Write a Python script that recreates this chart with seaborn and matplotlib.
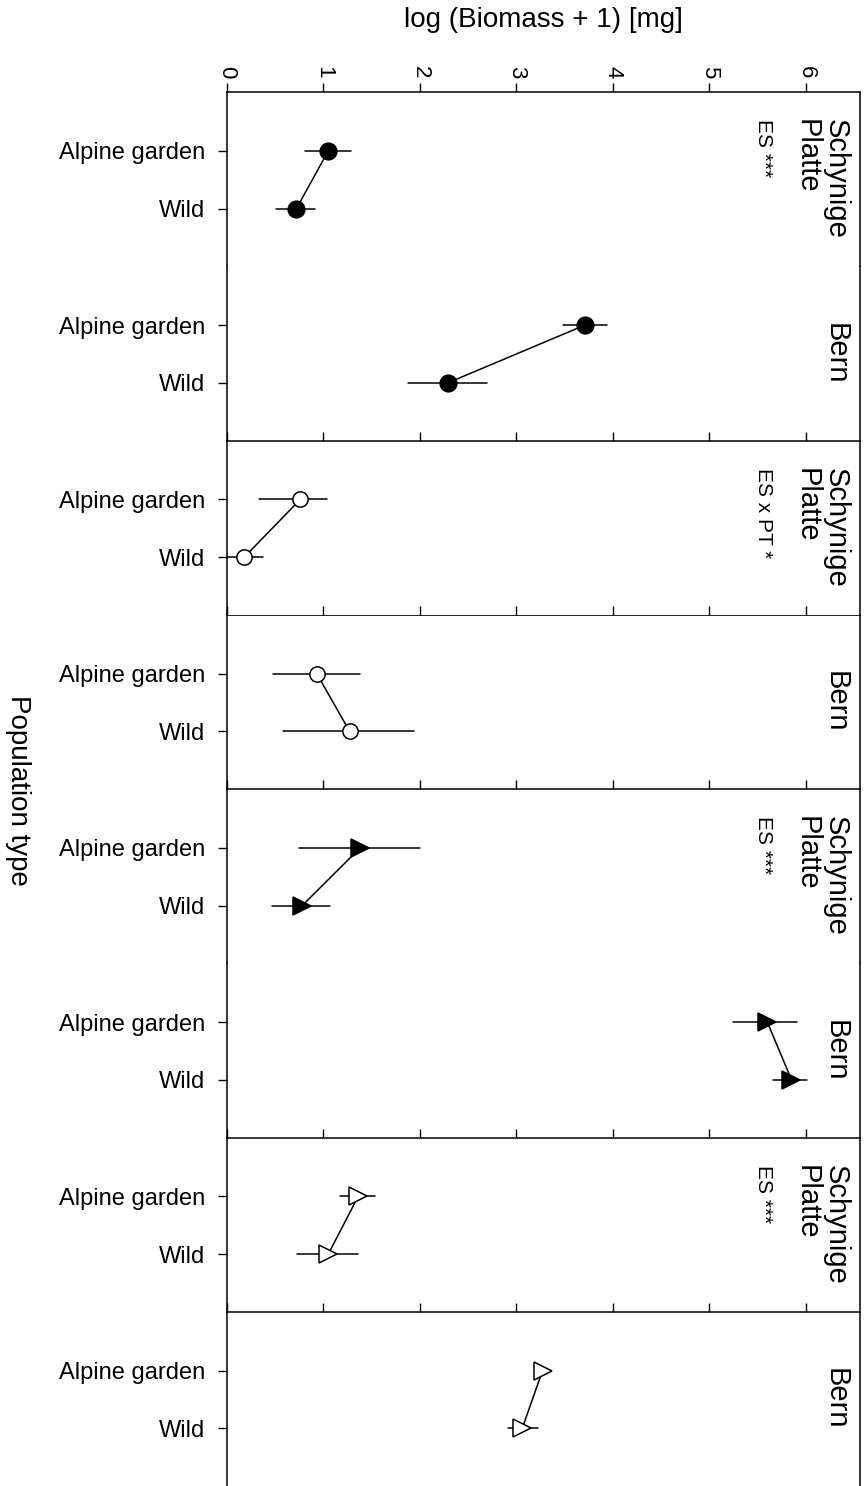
import numpy as np
import pandas as pd
import matplotlib
matplotlib.use("Agg")
import matplotlib.pyplot as plt
import seaborn as sns

# ---- data -------------------------------------------------------------
pop_types = ["Alpine garden", "Wild"]
sites = ["Schynige\nPlatte", "Bern", "Schynige\nPlatte", "Bern",
         "Schynige\nPlatte", "Bern", "Schynige\nPlatte", "Bern"]
notes = ["ES ***", "", "ES x PT *", "", "ES ***", "", "ES ***", ""]

# log(biomass + 1) means with lower / upper error limits, per panel
mean_alpine = [1.05, 3.71, 0.76, 0.93, 1.38, 5.60, 1.36, 3.27]
low_alpine = [0.81, 3.48, 0.33, 0.48, 0.75, 5.24, 1.17, 3.21]
high_alpine = [1.29, 3.94, 1.04, 1.38, 2.00, 5.91, 1.53, 3.33]
mean_wild = [0.72, 2.29, 0.18, 1.27, 0.78, 5.85, 1.05, 3.06]
low_wild = [0.51, 1.88, 0.00, 0.58, 0.47, 5.66, 0.73, 2.91]
high_wild = [0.91, 2.69, 0.37, 1.94, 1.07, 6.01, 1.36, 3.22]

# marker style per panel (one species pair of panels per symbol)
panel_marker = ["o", "o", "o", "o", ">", ">", ">", ">"]
panel_face = ["black", "black", "white", "white", "black", "black", "white", "white"]
panel_msize = [12, 12, 11, 11, 13, 13, 13, 13]

# long table: lower limit, mean and upper limit per group; the median gives
# the mean and the full percentile interval gives the error limits
rows = []
for i in range(len(sites)):
    for pop, lo, mid, hi in [
        ("Alpine garden", low_alpine[i], mean_alpine[i], high_alpine[i]),
        ("Wild", low_wild[i], mean_wild[i], high_wild[i]),
    ]:
        for v in (lo, mid, hi):
            rows.append({"panel": i, "population": pop, "biomass": v})
df = pd.DataFrame(rows)

# ---- figure -----------------------------------------------------------
sns.set_style("ticks")
plt.rcParams["font.family"] = ["Liberation Sans", "DejaVu Sans"]
plt.rcParams.update({
    "text.color": "black", "axes.labelcolor": "black",
    "xtick.color": "black", "ytick.color": "black",
    "axes.edgecolor": "black",
})

W, H = 864, 1486
fig = plt.figure(figsize=(W / 100, H / 100), dpi=100)

left_px, right_px, top_px = 227, 860, 92
n = len(sites)
panel_h = (H - top_px) / n

# panels whose upper border line is drawn
top_line = [True, False, True, True, True, False, True, True]
top_lw = [1.1, 1.1, 1.1, 0.6, 1.1, 1.1, 1.1, 1.1]

axes = []
for i in range(n):
    bottom = (H - top_px - (i + 1) * panel_h) / H
    ax = fig.add_axes([left_px / W, bottom, (right_px - left_px) / W, panel_h / H])
    axes.append(ax)
    sub = df[df["panel"] == i]
    sns.pointplot(
        data=sub, x="biomass", y="population", order=pop_types,
        estimator="median", errorbar=("pi", 100),
        color="black", markers=panel_marker[i], linestyles="-",
        markersize=panel_msize[i], markerfacecolor=panel_face[i],
        markeredgecolor="black", markeredgewidth=1.1, linewidth=1.1,
        capsize=0,
        err_kws={"linewidth": 1.1, "color": "black"}, ax=ax,
    )
    # keep the symbols above their error bars
    for ln in ax.lines:
        if ln.get_marker() not in (None, "None", "", " "):
            ln.set_zorder(4)
        else:
            ln.set_zorder(2)

    ax.set_xlim(0, 6.56)
    ax.set_ylim(2.0, -1.02)
    ax.set_xlabel("")
    ax.set_ylabel("")
    ax.set_facecolor("white")

    for side in ("left", "right"):
        ax.spines[side].set_visible(True)
        ax.spines[side].set_linewidth(1.1)
        ax.spines[side].set_color("black")
    ax.spines["bottom"].set_visible(False)
    ax.spines["top"].set_visible(top_line[i])
    ax.spines["top"].set_linewidth(top_lw[i])
    ax.spines["top"].set_color("black")

    ax.set_xticks(range(7))
    ax.set_xticklabels([str(t) for t in range(7)])
    ax.tick_params(axis="x", top=top_line[i], bottom=False,
                   labeltop=(i == 0), labelbottom=False,
                   direction="out", length=6.5, width=1.0, pad=3,
                   labelsize=16, labelrotation=-90, color="black",
                   labelcolor="black")
    ax.tick_params(axis="y", left=True, right=False, direction="out",
                   length=6.5, width=1.0, pad=9, labelsize=17, color="black",
                   labelcolor="black")

    # site name at the right edge
    ax.text(0.984, 0.5, sites[i], transform=ax.transAxes, rotation=-90,
            ha="right", va="center", multialignment="left",
            fontsize=21, color="black", linespacing=1.05)

axes[0].xaxis.set_label_position("top")
axes[0].set_xlabel("log (Biomass + 1) [mg]", fontsize=20, labelpad=28)

fig.text(18 / W, 1 - 790 / H, "Population type", rotation=-90,
         ha="center", va="center", fontsize=20, color="black")

# effect notes, starting level with the site names
fig.canvas.draw()
for i, ax in enumerate(axes):
    if not notes[i]:
        continue
    site_txt = ax.texts[0]
    bb = site_txt.get_window_extent()
    y_top = ax.transAxes.inverted().transform((0, bb.y1))[1]
    ax.text(0.863, y_top, notes[i], transform=ax.transAxes, rotation=-90,
            ha="right", va="top", fontsize=15, color="black")

fig.savefig("out.png", dpi=100)
